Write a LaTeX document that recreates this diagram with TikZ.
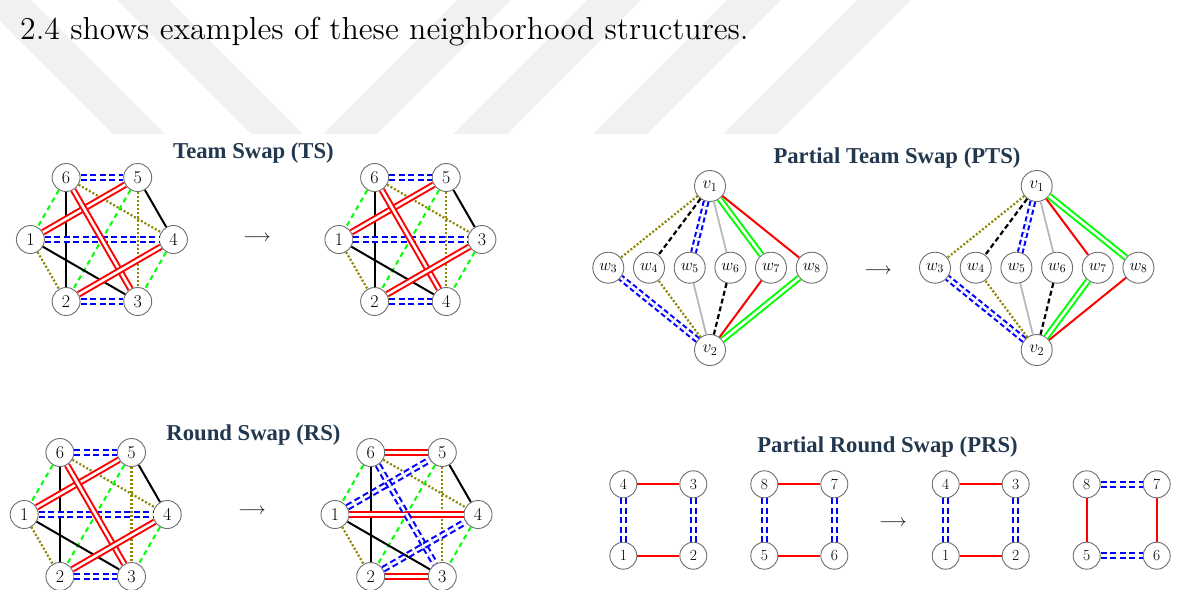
\RequirePackage{fix-cm}
\documentclass[tikz,border=0pt]{standalone}
\usepackage{fontspec}
\newfontfamily\tfont{Liberation Serif}
\newfontfamily\hfont{lmroman12-regular.otf}
\definecolor{titlecol}{HTML}{22384F}
\definecolor{wm}{HTML}{F1F1F1}
\definecolor{ndcol}{HTML}{6E6E6E}
\tikzset{
  hx/.style={circle,draw=ndcol,fill=white,line width=0.9pt,minimum size=28pt,inner sep=0pt,font=\fontsize{18}{18}\selectfont},
  pn/.style={circle,draw=ndcol,fill=white,line width=0.9pt,minimum size=31pt,inner sep=0pt,font=\fontsize{16.5}{16.5}\selectfont},
  sn/.style={circle,draw=ndcol,fill=white,line width=0.9pt,minimum size=27pt,inner sep=0pt,font=\fontsize{15.5}{15.5}\selectfont},
  bdd/.style={draw=blue,line width=2.1pt,double=white,double distance=2.6pt,dash pattern=on 6pt off 3.5pt},
  rdd/.style={draw=red,line width=2pt,double=white,double distance=2.6pt},
  gdd/.style={draw=green,line width=2pt,double=white,double distance=2.6pt},
  blk/.style={draw=black,line width=2pt},
  rln/.style={draw=red,line width=2pt},
  grn/.style={draw=green,line width=2pt,dash pattern=on 5pt off 4pt},
  olv/.style={draw=olive,line width=2.2pt,dash pattern=on 2pt off 2pt},
  gry/.style={draw=black!28,line width=1.8pt},
  bkd/.style={draw=black,line width=2.2pt,dash pattern=on 5pt off 3pt},
  ttl/.style={font=\tfont\bfseries\fontsize{22.7}{24}\selectfont,text=titlecol,inner sep=0pt},
  arr/.style={font=\fontsize{17}{17}\selectfont,inner sep=0pt},
}
% hexagon graph: #1 prefix, #2 cx, #3 cy, #4 label right, #5 label bottom-right, #6 style set1, #7 style set2
\newcommand\hexg[7]{%
  \node[hx] (#1a) at (#2-35.8,#3-62) {6};
  \node[hx] (#1b) at (#2+35.8,#3-62) {5};
  \node[hx] (#1c) at (#2-71.5,#3) {1};
  \node[hx] (#1d) at (#2+71.5,#3) {#4};
  \node[hx] (#1e) at (#2-35.8,#3+62) {2};
  \node[hx] (#1f) at (#2+35.8,#3+62) {#5};
  \draw[olv] (#1a) -- (#1d);
  \draw[olv] (#1b) -- (#1f);
  \draw[olv] (#1c) -- (#1e);
  \draw[grn] (#1a) -- (#1c);
  \draw[grn] (#1b) -- (#1e);
  \draw[grn] (#1d) -- (#1f);
  \draw[blk] (#1a) -- (#1e);
  \draw[blk] (#1c) -- (#1f);
  \draw[blk] (#1b) -- (#1d);
  \draw[#6] (#1a) -- (#1b);
  \draw[#6] (#1e) -- (#1f);
  \draw[#6] (#1c) -- (#1d);
  \draw[#7] (#1c) -- (#1b);
  \draw[#7] (#1a) -- (#1f);
  \draw[#7] (#1e) -- (#1d);
}
% partial team swap graph: #1 prefix, #2 x of v1, #3 style v1-w7/v2-w8, #4 style v1-w8/v2-w7
\newcommand\ptsg[4]{%
  \node[pn,font=\fontsize{17.5}{17.5}\selectfont] (#1v1) at (#2,186) {$v_1$};
  \node[pn,font=\fontsize{17.5}{17.5}\selectfont] (#1v2) at (#2,350) {$v_2$};
  \foreach \i/\dx in {3/-101.7,4/-61,5/-20.3,6/20.4,7/61,8/101.7}{
    \node[pn] (#1w\i) at (#2+\dx,267.7) {$w_{\i}$};
  }
  \draw[olv] (#1v1) -- (#1w3);
  \draw[bkd] (#1v1) -- (#1w4);
  \draw[bdd,dash pattern=on 5pt off 3pt] (#1v1) -- (#1w5);
  \draw[gry] (#1v1) -- (#1w6);
  \draw[#3] (#1v1) -- (#1w7);
  \draw[#4] (#1v1) -- (#1w8);
  \draw[bdd,dash pattern=on 5pt off 3pt] (#1v2) -- (#1w3);
  \draw[olv] (#1v2) -- (#1w4);
  \draw[gry] (#1v2) -- (#1w5);
  \draw[bkd] (#1v2) -- (#1w6);
  \draw[#4] (#1v2) -- (#1w7);
  \draw[#3] (#1v2) -- (#1w8);
}
% square: #1 prefix, #2 x left, #3 tl, #4 tr, #5 bl, #6 br, #7 horizontal style, #8 vertical style
\newcommand\sqg[8]{%
  \node[sn] (#1tl) at (#2,484.3) {#3};
  \node[sn] (#1tr) at (#2+70,484.3) {#4};
  \node[sn] (#1bl) at (#2,555.7) {#5};
  \node[sn] (#1br) at (#2+70,555.7) {#6};
  \draw[#7] (#1tl) -- (#1tr);
  \draw[#7] (#1bl) -- (#1br);
  \draw[#8] (#1tl) -- (#1bl);
  \draw[#8] (#1tr) -- (#1br);
}
\begin{document}
\begin{tikzpicture}[x=1pt,y=-1pt]
\useasboundingbox (0,0) rectangle (1177,589);
\fill[white] (0,0) rectangle (1177,589);
% watermark stripes
\fill[wm] (-21,0) -- (31,0) -- (165,134) -- (113,134) -- cycle;
\fill[wm] (117,0) -- (169,0) -- (303,134) -- (251,134) -- cycle;
\fill[wm] (457,0) -- (511,0) -- (377,134) -- (323,134) -- cycle;
\fill[wm] (587,0) -- (641,0) -- (507,134) -- (453,134) -- cycle;
\fill[wm] (727,0) -- (781,0) -- (647,134) -- (593,134) -- cycle;
\fill[wm] (857,0) -- (911,0) -- (777,134) -- (723,134) -- cycle;
% header text
\node[anchor=base west,inner sep=0pt,font=\hfont\fontsize{31.8}{38}\selectfont] (hdr) at (20,39) {2.4 shows examples of these neighborhood structures.};
% titles
\node[ttl] (t1) at (253.5,153) {Team Swap (TS)};
\node[ttl] (t2) at (897,158) {Partial Team Swap (PTS)};
\node[ttl] (t3) at (253.5,435) {Round Swap (RS)};
\node[ttl] (t4) at (887.5,447) {Partial Round Swap (PRS)};
% arrows
\node[arr] (a1) at (257,238) {$\longrightarrow$};
\node[arr] (a2) at (878,271) {$\longrightarrow$};
\node[arr] (a3) at (252,511) {$\longrightarrow$};
\node[arr] (a4) at (893,523) {$\longrightarrow$};
% graphs
\hexg{P}{101.9}{239.5}{4}{3}{bdd}{rdd}
\hexg{Q}{410.4}{239.5}{3}{4}{bdd}{rdd}
\hexg{S}{95.7}{514.5}{4}{3}{bdd}{rdd}
\hexg{T}{406.5}{514.5}{4}{3}{rdd}{bdd}
\ptsg{L}{710}{gdd}{rln}
\ptsg{R}{1036.7}{rln}{gdd}
\sqg{A}{623.3}{4}{3}{1}{2}{rln}{bdd}
\sqg{B}{764.3}{8}{7}{5}{6}{rln}{bdd}
\sqg{C}{945.7}{4}{3}{1}{2}{rln}{bdd}
\sqg{D}{1086.7}{8}{7}{5}{6}{bdd}{rln}
\end{tikzpicture}
\end{document}
